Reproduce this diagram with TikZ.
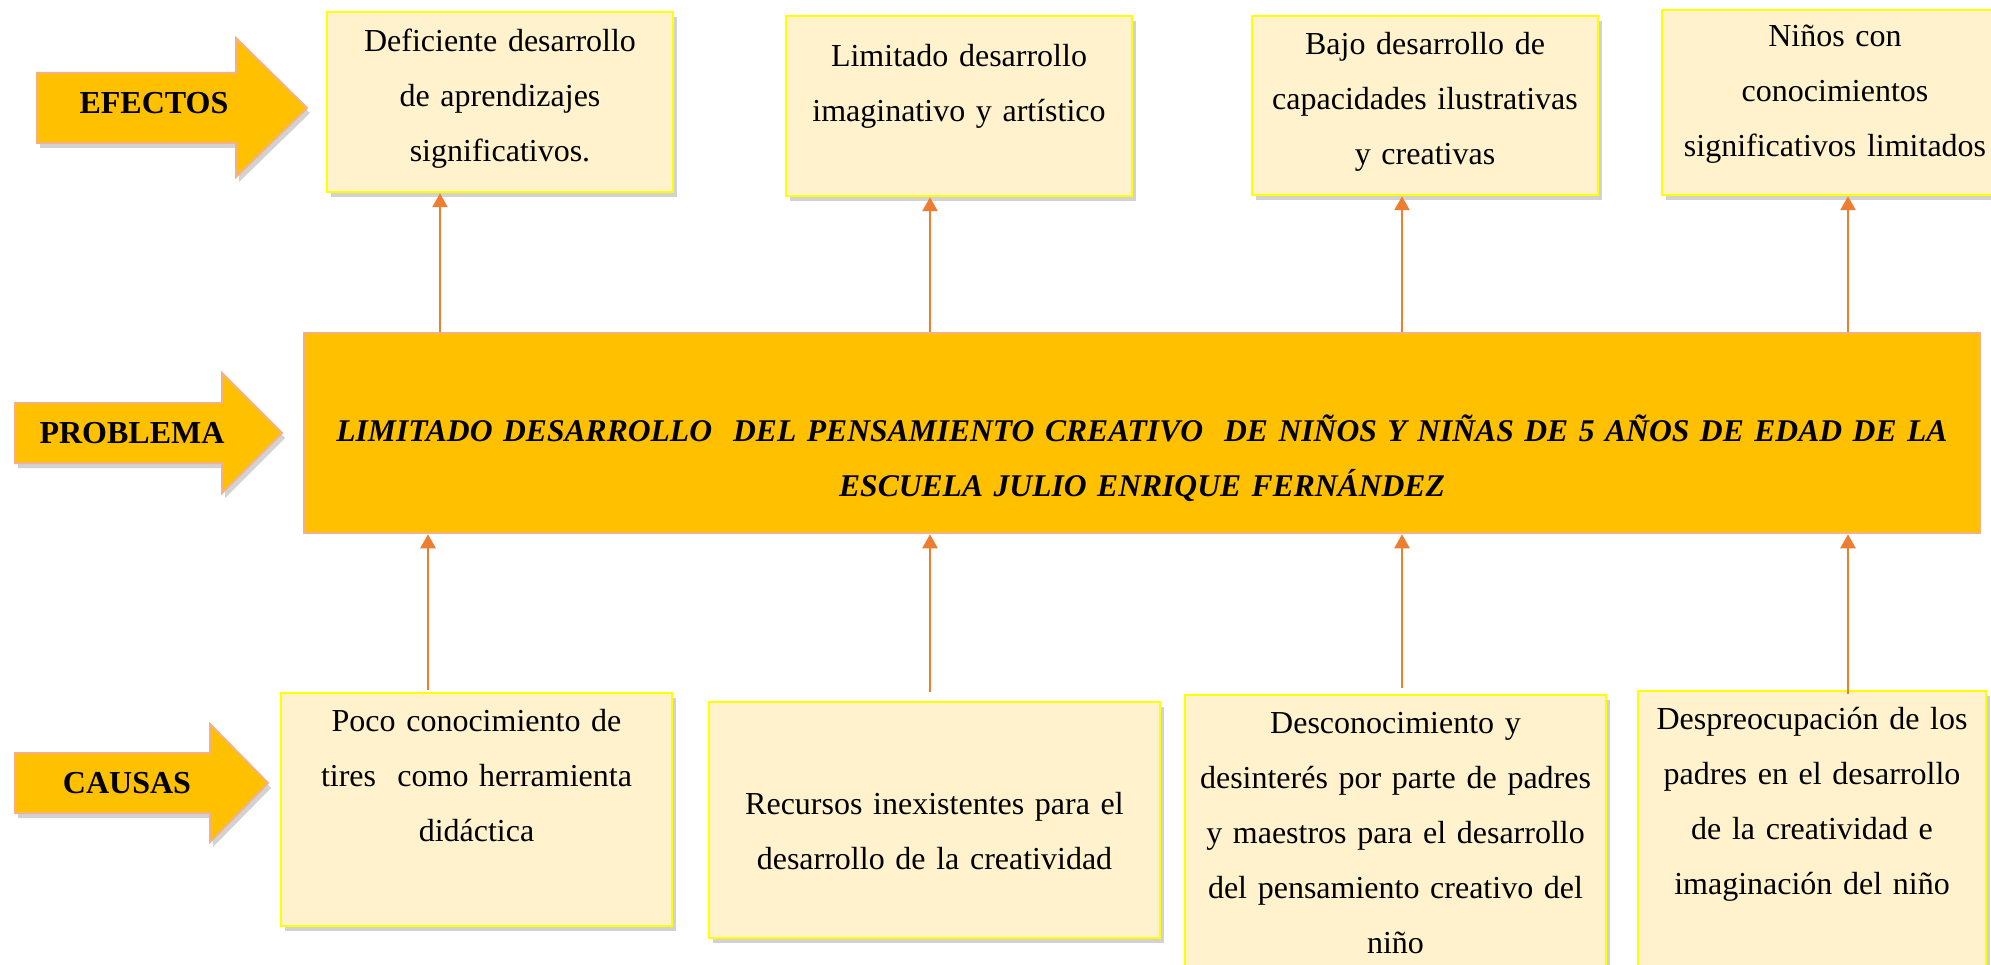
\documentclass[tikz,border=0pt]{standalone}
\usepackage{fontspec}
\setmainfont{Liberation Serif}
\usetikzlibrary{positioning,shadows,arrows.meta}
\definecolor{boxfill}{HTML}{FFF2CC}
\definecolor{boxline}{HTML}{FFFF00}
\definecolor{probfill}{HTML}{FFC000}
\definecolor{probline}{HTML}{F4B183}
\definecolor{connline}{HTML}{ED7D31}
\begin{document}
\begin{tikzpicture}[x=1pt,y=-1pt,
  box/.style={draw=boxline,line width=2.5pt,fill=boxfill,inner sep=0pt,
    drop shadow={shadow xshift=4pt,shadow yshift=-5pt,opacity=.35}},
  probbox/.style={draw=probline,line width=2.5pt,fill=probfill,inner sep=0pt},
  bigarrow/.style={draw=probline,line width=2pt,fill=probfill,
    drop shadow={shadow xshift=3pt,shadow yshift=-5pt,opacity=.35}},
  txt/.style={font=\fontsize{32}{55}\selectfont,align=center,inner sep=0pt},
  tag/.style={font=\fontsize{32}{38}\selectfont\bfseries,inner sep=0pt},
  conn/.style={draw=connline,line width=2.5pt,-{Triangle[length=14pt,width=15pt]}}]
\fill [white] (0,0) rectangle (1991,965);
\useasboundingbox (0,0) rectangle (1991,965);

\path [bigarrow] (37,73) -- (236,73) -- (236,38) -- (307,108) -- (236,177) -- (236,143) -- (37,143) -- cycle;
\path [bigarrow] (15,403) -- (222,403) -- (222,373) -- (282,433) -- (222,493) -- (222,463) -- (15,463) -- cycle;
\path [bigarrow] (15,753) -- (210,753) -- (210,724) -- (268,783) -- (210,842) -- (210,813) -- (15,813) -- cycle;
\node [tag] (efectos)  at (154,103) {EFECTOS};
\node [tag] (problema) at (132,433) {PROBLEMA};
\node [tag] (causas)   at (127,783) {CAUSAS};

\node [box,minimum width=346pt,minimum height=180pt] (efe1) at (500,102) {};
\node [box,minimum width=346pt,minimum height=180pt] (efe2) at (959,106) {};
\node [box,minimum width=346pt,minimum height=179pt] (efe3) at (1425,105.5) {};
\node [box,minimum width=346pt,minimum height=185pt] (efe4) at (1835,102.5) {};
\node [txt,text width=346pt,below=18pt of efe1.north] (efe1t) {Deficiente desarrollo\\de aprendizajes\\significativos.};
\node [txt,text width=346pt,below=29pt of efe2.north] (efe2t) {Limitado desarrollo\\imaginativo y artístico};
\node [txt,text width=346pt,below=17pt of efe3.north] (efe3t) {Bajo desarrollo de\\capacidades ilustrativas\\y creativas};
\node [txt,text width=346pt,below=16pt of efe4.north] (efe4t) {Niños con\\conocimientos\\significativos limitados};

\node [probbox,minimum width=1676pt,minimum height=200pt] (prob) at (1142,433) {};
\node [txt,text width=1676pt,font=\fontsize{31.6}{55}\selectfont\bfseries\itshape,below=83pt of prob.north] (probt)
  {LIMITADO DESARROLLO~ DEL PENSAMIENTO CREATIVO~ DE NIÑOS Y NIÑAS DE 5 AÑOS DE EDAD DE LA\\ESCUELA JULIO ENRIQUE FERNÁNDEZ};

\node [box,minimum width=391pt,minimum height=233pt] (cau1) at (476.5,809.5) {};
\node [box,minimum width=451pt,minimum height=236pt] (cau2) at (934.5,820) {};
\node [box,minimum width=421pt,minimum height=305pt] (cau3) at (1395.5,847.5) {};
\node [box,minimum width=348pt,minimum height=309pt] (cau4) at (1812,845.5) {};
\node [txt,text width=391pt,below=17pt of cau1.north] (cau1t) {Poco conocimiento de\\tires~ como herramienta\\didáctica};
\node [txt,text width=451pt,below=91pt of cau2.north] (cau2t) {Recursos inexistentes para el\\desarrollo de la creatividad};
\node [txt,text width=421pt,below=18pt of cau3.north] (cau3t) {Desconocimiento y\\desinterés por parte de padres\\y maestros para el desarrollo\\del pensamiento creativo del\\niño};
\node [txt,text width=348pt,below=17pt of cau4.north] (cau4t) {Despreocupación de los\\padres en el desarrollo\\de la creatividad e\\imaginación del niño};

\coordinate (ea1) at (440,0);
\coordinate (ea2) at (930,0);
\coordinate (ea3) at (1402,0);
\coordinate (ea4) at (1848,0);
\draw [conn] (ea1 |- prob.north) -- (ea1 |- efe1.south);
\draw [conn] (ea2 |- prob.north) -- (ea2 |- efe2.south);
\draw [conn] (ea3 |- prob.north) -- (ea3 |- efe3.south);
\draw [conn] (ea4 |- prob.north) -- (ea4 |- efe4.south);

\coordinate (ca1) at (428,690);
\coordinate (ca2) at (930,692);
\coordinate (ca3) at (1402,688);
\coordinate (ca4) at (1848,694);
\draw [conn] (ca1) -- (ca1 |- prob.south);
\draw [conn] (ca2) -- (ca2 |- prob.south);
\draw [conn] (ca3) -- (ca3 |- prob.south);
\draw [conn] (ca4) -- (ca4 |- prob.south);
\end{tikzpicture}
\end{document}
